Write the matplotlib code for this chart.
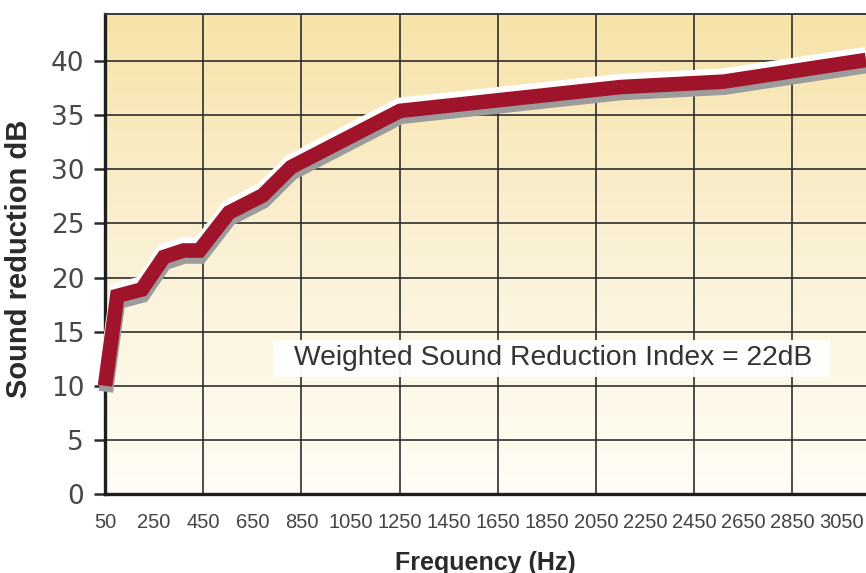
"""Sound reduction vs frequency chart."""

import matplotlib
matplotlib.use("Agg")
import matplotlib.pyplot as plt
import matplotlib.patheffects as pe
from matplotlib.colors import LinearSegmentedColormap
from matplotlib.patches import Rectangle
import numpy as np

# data
freq_hz = [50, 100, 200, 290, 370, 435, 555, 693, 808, 1252, 2150, 2570, 3150]
reduction_db = [10.0, 18.3, 18.9, 21.9, 22.5, 22.5, 26.0, 27.6, 30.2, 35.4, 37.6, 38.1, 40.1]

label_ticks = list(range(50, 3051, 200))
grid_ticks = list(range(50, 2851, 400))
y_ticks = list(range(0, 41, 5))
note = "Weighted Sound Reduction Index = 22dB"

RED = "#a0142b"
INK = "#2a2a2a"
SANS = ["Liberation Sans", "DejaVu Sans"]

fig = plt.figure(figsize=(8.66, 5.73), dpi=100)
ax = fig.add_axes([105 / 866, 1 - 494 / 573, 1 - 105 / 866, 480 / 573])

# background gradient, yellow at the top fading to near white
bg = LinearSegmentedColormap.from_list("bg", ["#fffdf5", "#fbf1d6", "#f7e3a8"])
grad = np.linspace(0, 1, 256).reshape(-1, 1)
ax.imshow(grad, cmap=bg, origin="lower", extent=[0, 1, 0, 1],
          transform=ax.transAxes, aspect="auto", zorder=0)

ax.set_xlim(50, 3150)
ax.set_ylim(0, 44.35)

# labels every 200 Hz, tick marks and grid every 400 Hz
ax.set_xticks(label_ticks)
ax.set_xticklabels([str(t) for t in label_ticks], family=SANS, fontsize=14.5, color="#444444")
ax.set_xticks(grid_ticks, minor=True)
ax.tick_params(axis="x", which="major", length=0, pad=14)
ax.tick_params(axis="x", which="minor", length=7, width=1.5, color=INK, direction="out")

ax.set_yticks(y_ticks)
ax.set_yticklabels([str(t) for t in y_ticks], family="DejaVu Sans", fontsize=19, color="#484848")
ax.tick_params(axis="y", length=8, width=1.8, color=INK, pad=7)

ax.grid(False)
for x in grid_ticks[1:]:
    ax.axvline(x, color="#2e2e2e", lw=1.2, zorder=1)
for y in y_ticks[1:]:
    ax.axhline(y, color="#2e2e2e", lw=1.2, zorder=1)

for side in ("left", "bottom"):
    ax.spines[side].set_linewidth(2.4)
    ax.spines[side].set_color("#1e1e1e")
ax.spines["top"].set_linewidth(1.4)
ax.spines["top"].set_color("#3a3a3a")
ax.spines["right"].set_visible(False)

ax.plot(freq_hz, reduction_db, color=RED, lw=10.5, solid_joinstyle="miter",
        solid_capstyle="butt", zorder=4, clip_on=False,
        path_effects=[
            pe.SimpleLineShadow(offset=(0.6, -4.3), shadow_color="#9c9c9c", alpha=1),
            pe.SimpleLineShadow(offset=(0, 4.3), shadow_color="white", alpha=1),
            pe.Normal(),
        ])

# note box
ax.add_patch(Rectangle((0.221, 0.243), 0.732, 0.077, transform=ax.transAxes,
                       facecolor="white", edgecolor="none", alpha=0.95, zorder=5))
ax.text(0.248, 0.2825, note, transform=ax.transAxes, ha="left", va="center",
        family=SANS, fontsize=20.3, color="#333333", zorder=6)

ax.set_ylabel("Sound reduction dB", family=SANS, fontsize=21, fontweight="bold", color=INK)
ax.yaxis.set_label_coords(-0.095, 0.49)
ax.set_xlabel("Frequency (Hz)", family=SANS, fontsize=18, fontweight="bold", color=INK)
ax.xaxis.set_label_coords(0.5, -0.118)

fig.savefig("out.png", dpi=100)
